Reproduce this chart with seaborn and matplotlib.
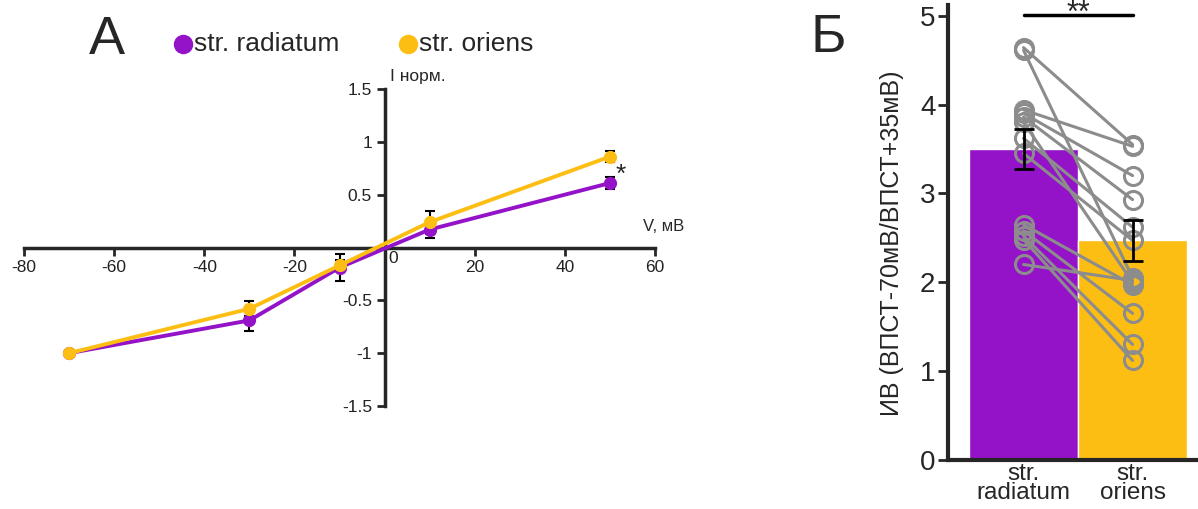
import pandas as pd
import matplotlib.pyplot as plt
import seaborn as sns
from matplotlib.lines import Line2D

sns.set_style('ticks')
plt.rcParams['font.family'] = ['Liberation Sans', 'DejaVu Sans']

PURPLE = '#9412C8'
YELLOW = '#FDBE14'
GRAY = '#8C8C8C'

# Panel A: normalised I-V curves
volt = [-70, -30, -10, 10, 50]
rad_mean = [-1.0, -0.69, -0.19, 0.17, 0.61]
rad_sem = [0.02, 0.10, 0.13, 0.08, 0.06]
ori_mean = [-1.0, -0.58, -0.17, 0.24, 0.86]
ori_sem = [0.02, 0.07, 0.05, 0.11, 0.055]
regions = ['str. radiatum', 'str. oriens']

# Panel B: rectification index, bars and paired cells
groups = ['str.\nradiatum', 'str.\noriens']
bar_mean = [3.50, 2.47]
bar_sem = [0.22, 0.23]
rad_cells = [4.64, 4.61, 3.94, 3.90, 3.86, 3.80, 3.62, 3.45, 2.65, 2.58, 2.52, 2.48, 2.20]
ori_cells = [3.55, 2.05, 3.53, 3.20, 2.93, 2.00, 2.62, 2.47, 1.97, 1.65, 1.30, 1.12, 2.02]

W, H = 1198, 509
fig = plt.figure(figsize=(W / 100, H / 100), dpi=100)


def fx(x):
    return x / W


def fy(y):
    return 1 - y / H


# ---- Panel A ----
ax1 = fig.add_axes([fx(24), fy(406), 631 / W, 317 / H])
df_iv = pd.DataFrame({
    'V': volt * 2,
    'I': rad_mean + ori_mean,
    'region': [regions[0]] * len(volt) + [regions[1]] * len(volt),
})
ax1.errorbar(volt, rad_mean, yerr=rad_sem, fmt='none', ecolor='black',
             elinewidth=1.5, capsize=3.5, capthick=1.5, zorder=1)
ax1.errorbar(volt, ori_mean, yerr=ori_sem, fmt='none', ecolor='black',
             elinewidth=1.5, capsize=3.5, capthick=1.5, zorder=1)
sns.lineplot(data=df_iv, x='V', y='I', hue='region', hue_order=regions,
             palette=[PURPLE, YELLOW], marker='o', markersize=9.5,
             markeredgewidth=0, linewidth=2.8, legend=False, ax=ax1,
             zorder=3)

ax1.set_xlim(-80, 60)
ax1.set_ylim(-1.5, 1.5)
ax1.spines['left'].set_position(('data', 0))
ax1.spines['bottom'].set_position(('data', 0))
ax1.spines['top'].set_visible(False)
ax1.spines['right'].set_visible(False)
for s in ['left', 'bottom']:
    ax1.spines[s].set_linewidth(2.5)
ax1.set_xticks([-80, -60, -40, -20, 20, 40, 60])
ax1.set_xticklabels(['-80', '-60', '-40', '-20', '20', '40', '60'])
ax1.set_yticks([-1.5, -1, -0.5, 0.5, 1, 1.5])
ax1.set_yticklabels(['-1.5', '-1', '-0.5', '0.5', '1', '1.5'])
ax1.tick_params(axis='both', length=6, width=2, labelsize=12.5,
                labelcolor='#222222', pad=3)
ax1.set_xlabel('')
ax1.set_ylabel('')
ax1.text(0.8, -0.03, '0', ha='left', va='top', fontsize=12.5, color='#222222')
ax1.text(1.2, 1.55, 'I норм.', ha='left', va='bottom', fontsize=12.5)
ax1.text(66.5, 0.13, 'V, мВ', ha='right', va='bottom', fontsize=12,
         clip_on=False)
ax1.text(52.5, 0.69, '*', ha='center', va='center', fontsize=19)

# legend drawn as dots + labels above panel A
for c, name, xd, xt in [(PURPLE, regions[0], 183, 194), (YELLOW, regions[1], 408, 419)]:
    fig.add_artist(Line2D([fx(xd)], [fy(44)], marker='o', color='none',
                          markerfacecolor=c, markeredgewidth=0, markersize=14))
    fig.text(fx(xt), fy(44), name, ha='left', va='center', fontsize=19)
fig.text(fx(107), fy(40), 'А', ha='center', va='center', fontsize=39)

# ---- Panel B ----
ax2 = fig.add_axes([fx(948), fy(460), 1 - fx(948), 455 / H])
sns.barplot(x=groups, y=bar_mean, hue=groups, palette=[PURPLE, YELLOW],
            width=1.0, saturation=1, legend=False, ax=ax2, zorder=1)

df_pairs = pd.DataFrame({
    'pos': [0] * len(rad_cells) + [1] * len(ori_cells),
    'val': rad_cells + ori_cells,
    'cell': list(range(len(rad_cells))) * 2,
})
sns.lineplot(data=df_pairs, x='pos', y='val', units='cell', estimator=None,
             color=GRAY, linewidth=2.2, marker='o', markersize=13,
             markerfacecolor='none', markeredgecolor=GRAY,
             markeredgewidth=2.2, ax=ax2, zorder=2)
ax2.errorbar([0, 1], bar_mean, yerr=bar_sem, fmt='none', ecolor='black',
             elinewidth=2, capsize=7, capthick=2, zorder=5)
ax2.plot([0, 1], [5.01, 5.01], color='black', lw=2.5, clip_on=False)
ax2.text(0.5, 4.93, '**', ha='center', va='baseline', fontsize=22,
         clip_on=False)

ax2.set_xlim(-0.693, 1.6)
ax2.set_ylim(0, 5.12)
ax2.set_yticks([0, 1, 2, 3, 4, 5])
ax2.set_xticks([0, 1])
ax2.set_xticklabels(groups, fontsize=17.5, linespacing=0.85)
ax2.tick_params(axis='y', length=7, width=2, labelsize=20, pad=2)
ax2.tick_params(axis='x', length=0, pad=2)
ax2.spines['top'].set_visible(False)
ax2.spines['right'].set_visible(False)
for s in ['left', 'bottom']:
    ax2.spines[s].set_linewidth(3)
ax2.set_xlabel('')
ax2.set_ylabel('ИВ (ВПСТ-70мВ/ВПСТ+35мВ)', fontsize=18)
ax2.yaxis.set_label_coords(-0.175, 0.477)
fig.text(fx(828), fy(38), 'Б', ha='center', va='center', fontsize=39)

fig.savefig('out.png', dpi=100)
